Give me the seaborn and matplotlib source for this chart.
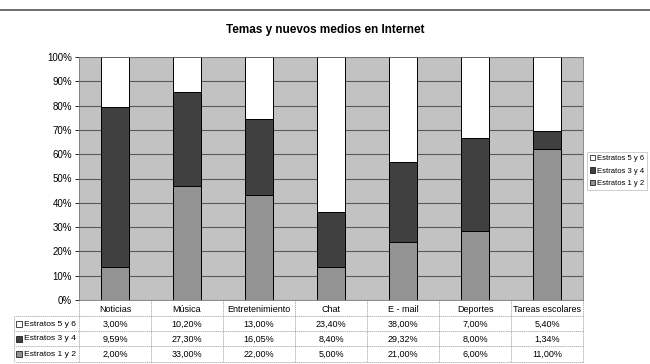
import numpy as np
import pandas as pd
import matplotlib
matplotlib.use("Agg")
import matplotlib.pyplot as plt
from matplotlib.lines import Line2D
from matplotlib.patches import Patch, Rectangle
import seaborn as sns

categories = ["Noticias", "Música", "Entretenimiento", "Chat", "E - mail", "Deportes", "Tareas escolares"]
series = ["Estratos 5 y 6", "Estratos 3 y 4", "Estratos 1 y 2"]
estratos_56 = [3.00, 10.20, 13.00, 23.40, 38.00, 7.00, 5.40]
estratos_34 = [9.59, 27.30, 16.05, 8.40, 29.32, 8.00, 1.34]
estratos_12 = [2.00, 33.00, 22.00, 5.00, 21.00, 6.00, 11.00]
colors = {"Estratos 5 y 6": "#ffffff", "Estratos 3 y 4": "#404040", "Estratos 1 y 2": "#939393"}

df = pd.DataFrame({"cat": categories, "Estratos 5 y 6": estratos_56,
                   "Estratos 3 y 4": estratos_34, "Estratos 1 y 2": estratos_12})
tot = df[series].sum(axis=1)
share = df[series].div(tot, axis=0) * 100
# cumulative from bottom: 1y2, 3y4, 5y6
cum = pd.DataFrame({"cat": categories})
cum["Estratos 1 y 2"] = share["Estratos 1 y 2"]
cum["Estratos 3 y 4"] = cum["Estratos 1 y 2"] + share["Estratos 3 y 4"]
cum["Estratos 5 y 6"] = cum["Estratos 3 y 4"] + share["Estratos 5 y 6"]

plt.rcParams["font.family"] = ["Liberation Sans", "DejaVu Sans"]
fig = plt.figure(figsize=(6.5, 3.64), dpi=100)
ax = fig.add_axes([79 / 650, 1 - 300 / 364, 504 / 650, 243 / 364])
ax.set_facecolor("#c2c2c2")

for s in series:  # tallest first so lower segments draw over
    sns.barplot(data=cum, x="cat", y=s, color=colors[s], width=0.4,
                edgecolor="black", linewidth=0.7, ax=ax, saturation=1)

ax.set_ylim(0, 100)
ax.set_yticks(np.arange(0, 101, 10))
ax.set_yticklabels([f"{v}%" for v in range(0, 101, 10)], fontsize=7)
ax.yaxis.grid(True, color="#5a5a5a", linewidth=0.8)
ax.set_axisbelow(True)
ax.set_xlabel("")
ax.set_ylabel("")
ax.set_xticks([])
ax.tick_params(axis="y", length=3, width=0.6, pad=2)
for sp in ax.spines.values():
    sp.set_color("#777777")
    sp.set_linewidth(0.6)

# title and top rule
fig.text(0.5, 1 - 30 / 364, "Temas y nuevos medios en Internet", ha="center", va="center",
         fontsize=8.5, fontweight="bold")
fig.add_artist(Line2D([0, 1], [1 - 10 / 364, 1 - 10 / 364], color="#555555", linewidth=1.2))

# data table below plot
def fy(py):
    return 1 - py / 364

col_w = 504 / 7
row_y = [309, 324, 339, 354]
for i, c in enumerate(categories):
    fig.text((79 + col_w * (i + 0.5)) / 650, fy(row_y[0]), c, ha="center", va="center", fontsize=6.5)
table_vals = [estratos_56, estratos_34, estratos_12]
for r, s in enumerate(series):
    y = fy(row_y[r + 1])
    fig.add_artist(Rectangle((16 / 650, y - 3 / 364), 6 / 650, 6 / 364, facecolor=colors[s],
                             edgecolor="black", linewidth=0.5, transform=fig.transFigure))
    fig.text(24 / 650, y, s, ha="left", va="center", fontsize=6.1)
    for i, v in enumerate(table_vals[r]):
        fig.text((79 + col_w * (i + 0.5)) / 650, y, f"{v:.2f}%".replace(".", ","),
                 ha="center", va="center", fontsize=6.5)
for py in [316, 331, 346, 362]:
    fig.add_artist(Line2D([15 / 650, 583 / 650], [fy(py), fy(py)], color="#999999",
                          linewidth=0.5, linestyle=(0, (2, 1))))
for k in range(8):
    x = (79 + col_w * k) / 650
    fig.add_artist(Line2D([x, x], [fy(300), fy(362)], color="#999999",
                          linewidth=0.5, linestyle=(0, (2, 1))))
fig.add_artist(Line2D([14 / 650, 14 / 650], [fy(316), fy(362)], color="#999999",
                      linewidth=0.5, linestyle=(0, (2, 1))))

handles = [Patch(facecolor=colors[s], edgecolor="black", linewidth=0.5, label=s) for s in series]
leg = fig.legend(handles=handles, loc="upper left", bbox_to_anchor=(587 / 650, 1 - 152 / 364),
                 fontsize=5.5, frameon=True, handlelength=0.7, handleheight=0.7,
                 handletextpad=0.3, labelspacing=0.7, borderpad=0.35, borderaxespad=0,
                 fancybox=False)
leg.get_frame().set_edgecolor("#aaaaaa")
leg.get_frame().set_linewidth(0.5)

fig.savefig("out.png", dpi=100)
